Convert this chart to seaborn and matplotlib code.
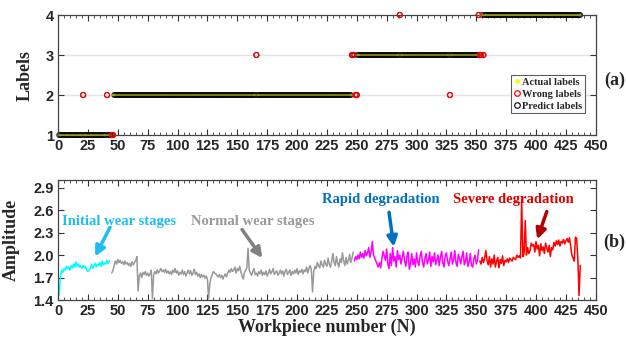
import numpy as np
import pandas as pd
import seaborn as sns
import matplotlib.pyplot as plt
from matplotlib.ticker import MultipleLocator
from matplotlib.lines import Line2D

# ---- data -------------------------------------------------------------
# stage boundaries (workpiece numbers) for the actual labels
stage_ends = [44, 247, 352, 437]
stage_labels = [1, 2, 3, 4]

# wrongly predicted workpieces: (workpiece, predicted label)
wrong_x = [21, 41, 45, 46, 166, 246, 247, 249, 250, 286, 328, 352, 353, 354, 356]
wrong_pred = [2, 2, 1, 1, 3, 3, 3, 2, 2, 4, 2, 4, 3, 3, 3]

# amplitude of each wear stage
initial_amp = [1.47, 1.72, 1.80, 1.77, 1.82, 1.80, 1.85, 1.82, 1.84, 1.80,
               1.86, 1.83, 1.88, 1.84, 1.91, 1.85, 1.88, 1.84, 1.86, 1.82,
               1.86, 1.83, 1.85, 1.80, 1.78, 1.80, 1.82, 1.88, 1.82, 1.86,
               1.89, 1.84, 1.88, 1.86, 1.90, 1.85, 1.92, 1.87, 1.90, 1.88,
               1.93, 1.89, 1.92]
normal_amp = [1.76, 1.80, 1.86, 1.92, 1.88, 1.94, 1.90, 1.93, 1.89, 1.91,
              1.87, 1.92, 1.88, 1.90, 1.86, 1.89, 1.85, 1.91, 1.87, 1.90,
              1.93, 1.98, 1.52, 1.72, 1.76, 1.70, 1.77, 1.74, 1.78, 1.73,
              1.76, 1.72, 1.75, 1.80, 1.42, 1.74, 1.78, 1.75, 1.80, 1.76,
              1.79, 1.82, 1.78, 1.80, 1.77, 1.81, 1.76, 1.79, 1.75, 1.78,
              1.74, 1.80, 1.77, 1.82, 1.76, 1.79, 1.73, 1.77, 1.75, 1.80,
              1.74, 1.78, 1.72, 1.76, 1.80, 1.75, 1.79, 1.73, 1.76, 1.81,
              1.74, 1.77, 1.72, 1.75, 1.70, 1.74, 1.71, 1.73, 1.69, 1.72,
              1.68, 1.42, 1.62, 1.70, 1.74, 1.78, 1.76, 1.75, 1.73, 1.71,
              1.74, 1.70, 1.73, 1.68, 1.72, 1.75, 1.71, 1.76, 1.80, 1.77,
              1.82, 1.78, 1.80, 1.84, 1.76, 1.82, 1.79, 1.85, 1.78, 1.72,
              1.68, 1.77, 1.80, 1.83, 2.09, 1.80, 1.76, 1.73, 1.78, 1.82,
              1.74, 1.76, 1.72, 1.78, 1.75, 1.80, 1.73, 1.77, 1.74, 1.79,
              1.72, 1.76, 1.81, 1.75, 1.78, 1.82, 1.74, 1.77, 1.79, 1.73,
              1.76, 1.80, 1.75, 1.79, 1.72, 1.78, 1.81, 1.74, 1.77, 1.80,
              1.73, 1.78, 1.75, 1.80, 1.76, 1.82, 1.74, 1.79, 1.77, 1.81,
              1.75, 1.80, 1.78, 1.84, 1.76, 1.82, 1.86, 1.80, 1.51, 1.78,
              1.85, 1.82, 1.90, 1.86, 1.83, 1.92, 1.87, 1.84, 1.93, 1.88,
              1.85, 1.96, 1.88, 1.84, 1.92, 2.02, 1.90, 1.86, 1.98, 1.89,
              1.84, 1.95, 1.90, 2.03, 1.92, 1.86, 1.97, 1.88, 1.93, 2.01,
              1.90, 1.96, 2.04]
rapid_amp = [1.92, 1.98, 1.94, 2.00, 1.95, 2.04, 1.97, 2.02, 1.96, 2.06,
             1.99, 2.03, 2.10, 1.97, 2.04, 2.18, 2.00, 1.96, 1.92, 1.88,
             1.84, 1.90, 1.83, 1.95, 2.05, 1.99, 1.93, 2.08, 1.88, 1.82,
             2.02, 1.86, 2.10, 1.92, 1.98, 1.84, 2.06, 1.94, 2.00, 1.88,
             1.97, 2.05, 1.92, 1.85, 1.98, 2.04, 1.81, 1.90, 2.02, 1.87,
             1.95, 1.84, 2.03, 1.91, 1.86, 1.99, 2.05, 1.90, 1.84, 1.96,
             2.02, 1.88, 1.93, 2.04, 1.85, 1.98, 1.91, 2.03, 1.87, 1.94,
             2.00, 1.86, 1.97, 2.05, 1.89, 1.84, 1.99, 2.03, 1.92, 1.86,
             1.95, 2.04, 1.88, 1.93, 2.06, 1.90, 1.85, 2.01, 1.96, 1.88,
             1.98, 2.05, 1.87, 1.92, 2.03, 1.85, 1.90, 2.02, 1.86, 1.84,
             1.95, 2.00, 1.88, 1.93, 2.07]
severe_amp = [1.92, 1.88, 1.97, 1.90, 1.95, 2.06, 1.93, 1.87, 1.98, 1.84,
              1.95, 1.88, 2.00, 1.84, 1.92, 1.97, 1.83, 1.94, 1.89, 1.99,
              1.86, 1.93, 1.91, 1.95, 1.90, 1.96, 1.94, 1.92, 1.97, 1.95,
              1.94, 2.00, 1.97, 1.99, 1.96, 2.74, 1.98, 2.02, 2.46, 2.00,
              2.10, 2.02, 2.06, 2.16, 2.12, 2.14, 2.04, 2.18, 2.08, 2.13,
              1.99, 2.15, 2.06, 2.11, 2.02, 2.16, 2.09, 2.04, 2.13, 1.98,
              2.10, 2.07, 2.17, 2.12, 2.19, 2.14, 2.20, 2.12, 2.18, 2.16,
              2.21, 2.15, 2.19, 2.22, 2.17, 2.23, 2.12, 2.00, 1.96, 1.92,
              2.24, 2.22, 1.95, 1.46, 1.86]

# ---- build tables -----------------------------------------------------
workpiece = np.arange(1, stage_ends[-1] + 1)
actual = np.zeros(len(workpiece), dtype=int)
start = 1
for end, lab in zip(stage_ends, stage_labels):
    actual[(workpiece >= start) & (workpiece <= end)] = lab
    start = end + 1
predict = actual.copy()
for wx, wp in zip(wrong_x, wrong_pred):
    predict[wx - 1] = wp

labels_df = pd.DataFrame({"N": workpiece, "actual": actual, "predict": predict})
wrong_df = pd.DataFrame({"N": wrong_x, "pred": wrong_pred})

stages = [("Initial", initial_amp, 1, "#00FFFF"),
          ("Normal", normal_amp, 45, "#999999"),
          ("Rapid", rapid_amp, 248, "#FF00FF"),
          ("Severe", severe_amp, 353, "#FF0000")]

# ---- plot -------------------------------------------------------------
sns.set_style("ticks")
serif = ["Liberation Serif", "DejaVu Serif"]
sans = ["Liberation Sans", "DejaVu Sans"]

fig = plt.figure(figsize=(6.26, 3.41), dpi=100)
ax1 = fig.add_axes([0.0927, 0.604, 0.859, 0.352])
ax2 = fig.add_axes([0.0927, 0.120, 0.859, 0.352])

# (a) labels
ax1.axhline(2, color="#e3e3e3", lw=1, zorder=0)
ax1.axhline(3, color="#e3e3e3", lw=1, zorder=0)
sns.scatterplot(data=labels_df, x="N", y="predict", ax=ax1, marker="o", s=12,
                facecolors="none", edgecolor="black", linewidth=0.8,
                alpha=0.8, clip_on=False, zorder=2)
sns.scatterplot(data=labels_df, x="N", y="actual", ax=ax1, marker="o", s=1.2,
                color="#E8E800", edgecolor="none", linewidth=0, alpha=0.7,
                clip_on=False, zorder=3)
sns.scatterplot(data=wrong_df, x="N", y="pred", ax=ax1, marker="o", s=14,
                facecolors="none", edgecolor="red", linewidth=0.8,
                clip_on=False, zorder=4)
ax1.set_ylim(1, 4)
ax1.set_yticks([1, 2, 3, 4])
ax1.set_ylabel("Labels", fontsize=13, fontweight="bold", family=serif)
ax1.yaxis.set_label_coords(-0.046, 0.5)
ax1.set_xlabel("")

handles = [Line2D([], [], ls="none", marker="o", ms=2.5, mfc="yellow", mec="yellow"),
           Line2D([], [], ls="none", marker="o", ms=4, mfc="none", mec="red", mew=0.9),
           Line2D([], [], ls="none", marker="o", ms=4, mfc="none", mec="black", mew=0.8)]
leg = ax1.legend(handles, ["Actual labels", "Wrong labels", "Predict labels"],
                 loc="lower right", bbox_to_anchor=(0.98, 0.18),
                 prop={"family": serif, "weight": "bold", "size": 7.5},
                 frameon=True, fancybox=False, edgecolor="#333333",
                 handlelength=0.6, handletextpad=0.2, borderpad=0.25,
                 labelspacing=0.25, borderaxespad=0)
leg.get_frame().set_linewidth(0.8)

# (b) amplitude
for name, amp, first, col in stages:
    df = pd.DataFrame({"N": np.arange(first, first + len(amp)), "amp": amp})
    sns.lineplot(data=df, x="N", y="amp", ax=ax2, color=col, lw=1.1)
ax2.set_ylim(1.4, 3.0)
ax2.set_yticks([1.4, 1.7, 2.0, 2.3, 2.6, 2.9])
ax2.set_ylabel("Amplitude", fontsize=13, fontweight="bold", family=serif)
ax2.yaxis.set_label_coords(-0.071, 0.5)
ax2.set_xlabel("Workpiece number (N)", fontsize=13, fontweight="bold",
               family=serif, labelpad=0)

notes = [("Initial wear stages", (51, 2.45), (31, 1.98), (43.5, 2.37), "#1EBEF0", "#1EBEF0"),
         ("Normal wear stages", (163, 2.45), (171, 1.96), (154, 2.34), "#999999", "#808080"),
         ("Rapid degradation", (270, 2.74), (281, 2.11), (277, 2.57), "#0070C0", "#0070C0"),
         ("Severe degradation", (381, 2.74), (401, 2.21), (409, 2.58), "#E00000", "#B00000")]
for txt, tpos, head, tail, tcol, acol in notes:
    ax2.text(*tpos, txt, color=tcol, ha="center", va="center", fontsize=10.5,
             fontweight="bold", family=serif)
    ax2.annotate("", xy=head, xytext=tail,
                 arrowprops=dict(arrowstyle="-|>,head_length=0.6,head_width=0.3",
                                 color=acol, lw=2.5, shrinkA=0, shrinkB=0))

for ax in (ax1, ax2):
    ax.set_xlim(0, 450)
    ax.xaxis.set_major_locator(MultipleLocator(25))
    ax.xaxis.set_minor_locator(MultipleLocator(5))
    ax.tick_params(which="both", direction="in", top=True, right=True,
                   color="#333333")
    ax.tick_params(which="major", length=4, width=0.8, pad=3)
    ax.tick_params(which="minor", length=2, width=0.6)
    for s in ax.spines.values():
        s.set_color("#444444")
        s.set_linewidth(0.9)
    for lab in ax.get_xticklabels() + ax.get_yticklabels():
        lab.set_fontfamily(sans)
        lab.set_fontweight("bold")
        lab.set_fontsize(10.5)

fig.text(0.982, 0.765, "(a)", fontsize=13, fontweight="bold", family=serif,
         ha="center", va="center")
fig.text(0.982, 0.29, "(b)", fontsize=13, fontweight="bold", family=serif,
         ha="center", va="center")

fig.savefig("out.png", dpi=100)
